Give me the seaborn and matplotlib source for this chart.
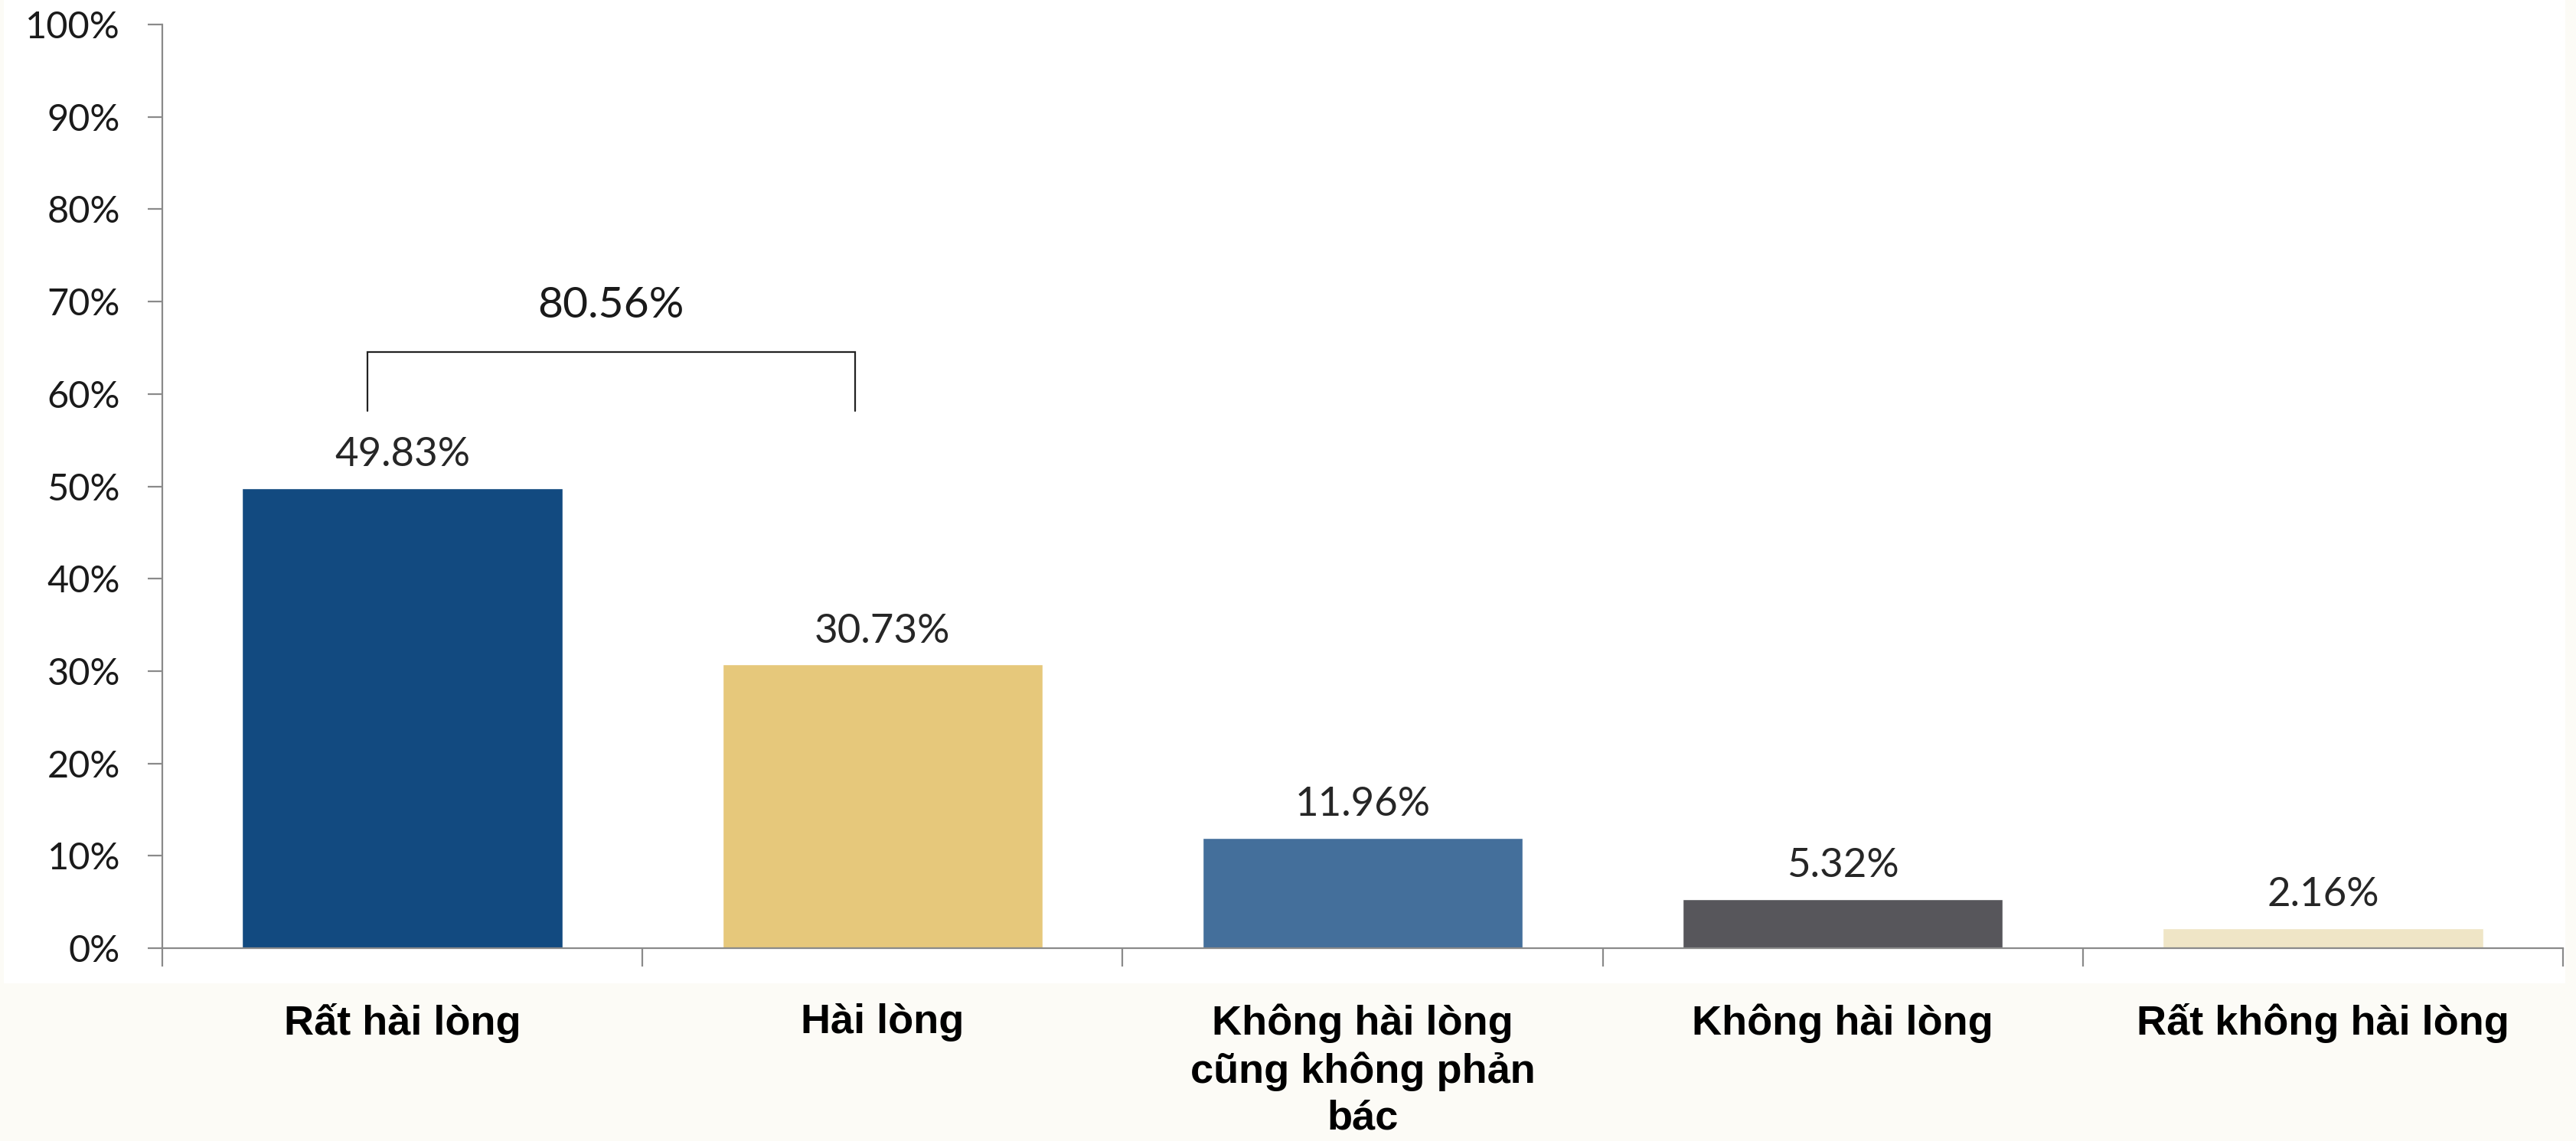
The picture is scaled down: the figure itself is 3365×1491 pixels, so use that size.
import matplotlib
matplotlib.use("Agg")
import matplotlib.pyplot as plt
import seaborn as sns
import pandas as pd
from matplotlib.patches import Rectangle

# Survey results: satisfaction levels (percent of respondents)
categories = [
    "Rất hài lòng",
    "Hài lòng",
    "Không hài lòng\ncũng không phản\nbác",
    "Không hài lòng",
    "Rất không hài lòng",
]
values = [49.83, 30.73, 11.96, 5.32, 2.16]
bar_colors = ["#124A80", "#E6C87B", "#446F9B", "#57565B", "#EFE5C6"]
y_ticks = [0, 10, 20, 30, 40, 50, 60, 70, 80, 90, 100]
y_tick_labels = [f"{t}%" for t in y_ticks]

sns.set_theme(style="white")
plt.rcParams["font.family"] = ["Lato", "DejaVu Sans"]

W, H, DPI = 3365, 1491, 100
fig = plt.figure(figsize=(W / DPI, H / DPI), dpi=DPI)
fig.patch.set_facecolor("#FCFBF6")

# white chart panel sitting on the cream page
fig.patches.append(Rectangle((5 / W, 1 - 1285 / H), (3351 - 5) / W, 1285 / H,
                             transform=fig.transFigure, facecolor="white",
                             edgecolor="none", zorder=-1))

ax = fig.add_axes([212 / W, 1 - 1239 / H, (3348 - 212) / W, (1239 - 32) / H])
ax.set_facecolor("white")

df = pd.DataFrame({"cat": categories, "val": values})
sns.barplot(data=df, x="cat", y="val", hue="cat", palette=bar_colors,
            width=0.667, saturation=1, legend=False, ax=ax, zorder=2)

ax.set_xlim(-0.5, len(categories) - 0.5)
ax.set_ylim(0, 100)
ax.set_xlabel("")
ax.set_ylabel("")

# spines
for side in ["top", "right"]:
    ax.spines[side].set_visible(False)
for side in ["left", "bottom"]:
    ax.spines[side].set_color("#8A8A8A")
    ax.spines[side].set_linewidth(1.6)
    ax.spines[side].set_zorder(3)

# y axis ticks
ax.set_yticks(y_ticks)
ax.set_yticklabels(y_tick_labels, fontsize=35, color="#1A1A1A")
ax.tick_params(axis="y", direction="out", length=13.5, width=1.6,
               color="#8A8A8A", pad=26, left=True)

# x axis: boundary ticks as majors, category names as minor labels
n = len(categories)
ax.set_xticks([i - 0.5 for i in range(n + 1)])
ax.set_xticklabels([""] * (n + 1))
ax.tick_params(axis="x", which="major", direction="out", length=17, width=1.6,
               color="#8A8A8A", bottom=True)
ax.set_xticks(range(n), minor=True)
ax.set_xticklabels(categories, minor=True, fontsize=39, fontweight="bold",
                   family=["Liberation Sans", "DejaVu Sans"], color="black",
                   linespacing=1.28, va="top")
ax.tick_params(axis="x", which="minor", length=0, pad=52)

# value labels above each bar
for cont in ax.containers:
    vals = [v for v in cont.datavalues]
    ax.bar_label(cont, labels=[f"{v:.2f}%" for v in vals], padding=14,
                 fontsize=38, color="#262626")

# bracket for the combined satisfied share
combined = values[0] + values[1]
bx0, bx1, by0, by1 = -0.073, 0.943, 58.2, 64.5
ax.plot([bx0, bx0, bx1, bx1], [by0, by1, by1, by0], color="#222222",
        linewidth=1.6, solid_joinstyle="miter", zorder=4, clip_on=False)
ax.text((bx0 + bx1) / 2, 68.3, f"{combined:.2f}%", ha="center",
        va="baseline", fontsize=41, color="#1A1A1A")

fig.savefig("out.png", dpi=DPI, facecolor=fig.get_facecolor())
